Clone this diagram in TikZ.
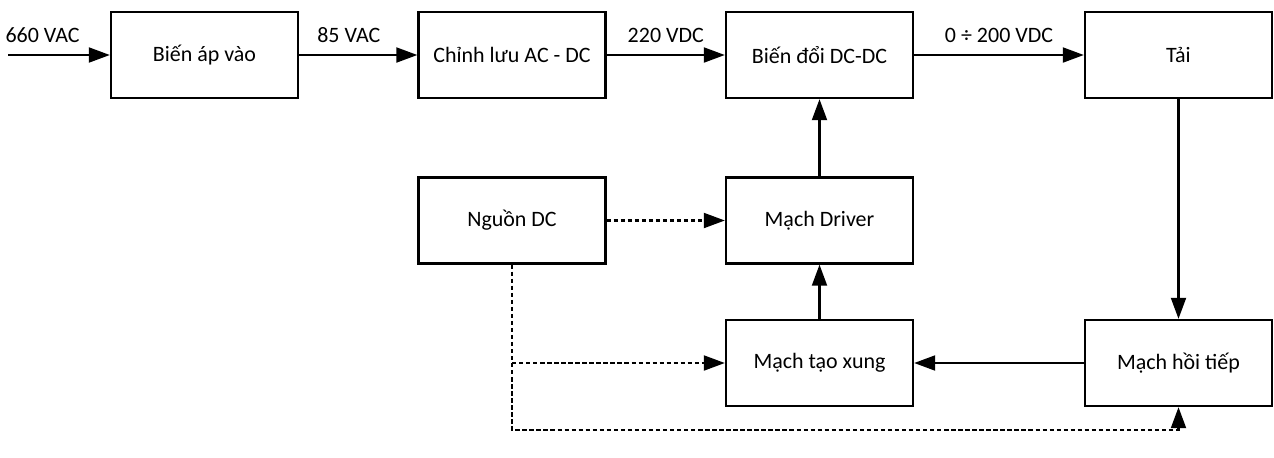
\documentclass[tikz,border=0pt]{standalone}
\usepackage{fontspec}
\setmainfont{Carlito}
\usetikzlibrary{arrows.meta}
\tikzset{
  block/.style={draw, line width=1.3pt, minimum width=3.74cm, minimum height=1.72cm,
    font=\fontsize{12.5}{15}\selectfont},
  lbl/.style={font=\fontsize{12.5}{15}\selectfont, above, yshift=3pt},
  dotline/.style={dash pattern=on 2.5pt off 1.5pt}
}
\begin{document}
\begin{tikzpicture}[line width=1.3pt, >={Triangle[length=12pt,width=8.5pt]}]
    \useasboundingbox (0,0) rectangle (25.48,-9.14);
    % top row
    \node[block] (bienap) at (4.09,-1.1) {Biến áp vào};
    \node[block] (chinhluu) at (10.24,-1.1) {Chỉnh lưu AC - DC};
    \node[block] (biendoi) at (16.39,-1.1) {Biến đổi DC-DC};
    \node[block] (tai) at (23.57,-1.1) {Tải};
    % lower blocks
    \node[block] (nguon) at (10.24,-4.41) {Nguồn DC};
    \node[block] (driver) at (16.39,-4.41) {Mạch Driver};
    \node[block] (xung) at (16.39,-7.26) {Mạch tạo xung};
    \node[block] (hoitiep) at (23.57,-7.26) {Mạch hồi tiếp};
    \coordinate (vao) at (0.16,-1.1);
    \coordinate (day) at (10.24,-8.6);
    % power path
    \draw[->] (vao) -- node[lbl, pos=0.34] {660 VAC} (bienap);
    \draw[->] (bienap) -- node[lbl, pos=0.42] {85 VAC} (chinhluu);
    \draw[->] (chinhluu) -- node[lbl] {220 VDC} (biendoi);
    \draw[->] (biendoi) -- node[lbl] {0 ÷ 200 VDC} (tai);
    % control loop
    \draw[->] (tai) -- (hoitiep);
    \draw[->] (hoitiep) -- (xung);
    \draw[->] (xung) -- (driver);
    \draw[->] (driver) -- (biendoi);
    % supply lines
    \draw[->, dotline] (nguon) -- (driver);
    \draw[->, dotline] (nguon.south) -- (day) -| (hoitiep.south);
    \draw[->, dotline] (nguon.south |- xung) -- (xung);
\end{tikzpicture}
\end{document}
